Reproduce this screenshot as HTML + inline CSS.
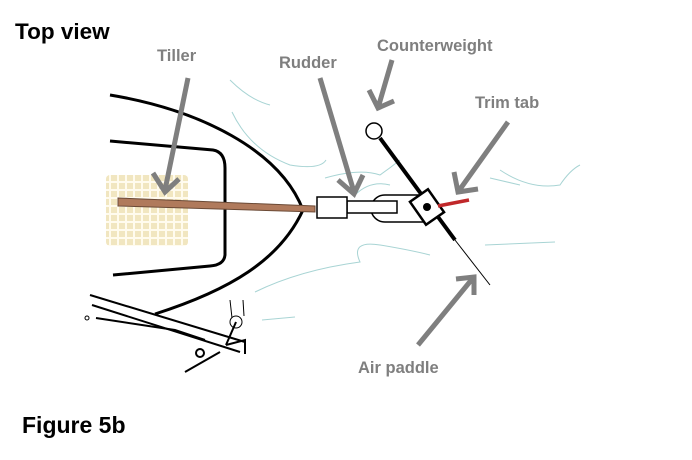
<!DOCTYPE html>
<html><head><style>
body{margin:0;background:#fff;width:692px;height:460px;overflow:hidden}
svg{display:block}
text{font-family:"Liberation Sans",sans-serif;font-weight:bold}
</style></head><body>
<svg width="692" height="460" viewBox="0 0 692 460">
<defs>
<pattern id="g" width="8" height="8" patternUnits="userSpaceOnUse">
<rect width="8" height="8" fill="#f1e6c0"/><rect x="5" y="0" width="2" height="8" fill="#fffbee"/><rect x="0" y="5" width="8" height="2" fill="#fffbee"/>
</pattern>
</defs>
<text x="15" y="39" font-size="22.5" fill="#000">Top view</text>
<text x="22" y="433" font-size="23" fill="#000">Figure 5b</text>
<g font-size="16.5" fill="#7f7f7f">
<text x="157" y="61">Tiller</text>
<text x="279" y="68">Rudder</text>
<text x="377" y="51">Counterweight</text>
<text x="475" y="108">Trim tab</text>
<text x="358" y="373">Air paddle</text>
</g>
<g fill="none" stroke="#a8d4d4" stroke-width="1">
<path d="M230 80 Q250 100 270 105"/>
<path d="M232 112 Q250 150 290 165 Q320 170 326 160"/>
<path d="M325 178 Q360 168 380 175 Q390 168 400 160"/>
<path d="M355 195 Q370 180 390 185"/>
<path d="M255 292 Q300 270 360 262 Q350 240 380 245 Q410 250 430 255"/>
<path d="M262 320 L295 317"/>
<path d="M500 170 Q530 190 560 185 Q570 170 580 165"/>
<path d="M485 245 L555 242"/>
<path d="M490 178 L520 185"/>
</g>
<path d="M110 95 C200 110 280 150 303 210 C280 260 230 290 155 314" fill="none" stroke="#000" stroke-width="3"/>
<path d="M110 141 L213 150 Q225 152 225 168 L225 255 Q224 265 210 266 L113 275" fill="none" stroke="#000" stroke-width="3"/>
<rect x="106" y="175" width="82" height="71" rx="4" fill="url(#g)"/>
<path d="M118 198 L315 206 L315 212 L118 206 Z" fill="#b07a5c" stroke="#6b4a36" stroke-width="1"/>
<g fill="none" stroke="#000" stroke-width="2">
<path d="M90 295 L245 342"/>
<path d="M92 305 L240 352"/>
<path d="M96 318 L175 330 L205 340"/>
<path d="M226 345 L245 340 L245 354"/>
<path d="M185 372 L220 352"/>
<circle cx="200" cy="353" r="4"/>
<circle cx="236" cy="322" r="6" stroke-width="1"/>
<path d="M230 300 L232 318 M243 300 L244 316" stroke-width="1"/>
<path d="M236 322 L226 345"/>
</g>
<circle cx="87" cy="318" r="2" fill="none" stroke="#000"/>
<path d="M385 195 L430 195 L430 222 L385 222 A14 13.5 0 0 1 385 195 Z" fill="#fff" stroke="#000" stroke-width="1.5"/>
<rect x="347" y="201" width="50" height="12" fill="#fff" stroke="#000" stroke-width="1.5"/>
<rect x="317" y="197" width="30" height="21" fill="#fff" stroke="#000" stroke-width="1.5"/>
<line x1="380" y1="138" x2="455" y2="240" stroke="#000" stroke-width="4"/>
<line x1="455" y1="240" x2="490" y2="285" stroke="#000" stroke-width="1"/>
<circle cx="374" cy="131" r="8" fill="#fff" stroke="#000" stroke-width="1.5"/>
<g transform="translate(427,207) rotate(-35)">
<rect x="-11" y="-14" width="22" height="28" fill="#fff" stroke="#000" stroke-width="2.5"/>
</g>
<circle cx="427" cy="207" r="4" fill="#000"/>
<line x1="438" y1="206" x2="469" y2="200" stroke="#c0282a" stroke-width="3.5"/>
<g fill="none" stroke="#7f7f7f" stroke-width="5">
<path d="M188 78 L165 190 M153 173 L165 192 L179 179"/>
<path d="M320 78 L354 192 M338 180 L354 194 L363 175"/>
<path d="M392 60 L378 108 M369 90 L378 108 L394 101"/>
<path d="M508 122 L458 192 M454 172 L458 192 L478 189"/>
<path d="M418 345 L473 278 M456 279 L474 277 L474 295"/>
</g>
</svg>
</body></html>
